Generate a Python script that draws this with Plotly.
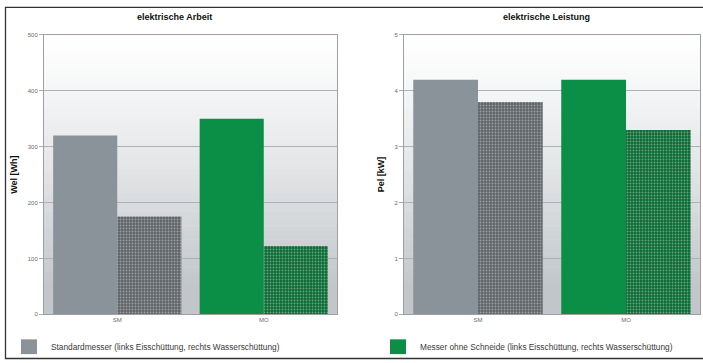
import plotly.graph_objects as go

# Categories and measured values
categories = ["SM", "MO"]
arbeit_eis = [320, 350]        # Wel [Wh], Eisschüttung
arbeit_wasser = [175, 122]     # Wel [Wh], Wasserschüttung
leistung_eis = [4.2, 4.2]      # Pel [kW], Eisschüttung
leistung_wasser = [3.8, 3.3]   # Pel [kW], Wasserschüttung

arbeit_ticks = [0, 100, 200, 300, 400, 500]
leistung_ticks = [0, 1, 2, 3, 4, 5]

legend_labels = [
    "Standardmesser (links Eisschüttung, rechts Wasserschüttung)",
    "Messer ohne Schneide (links Eisschüttung, rechts Wasserschüttung)",
]

# Colours: solid for Eis, dotted/darker for Wasser
eis_colors = ["#8b939a", "#0b8e46"]
wasser_colors = ["#5f6468", "#0a6a34"]
wasser_dots = ["#a0a5aa", "#3f9f65"]

W, H = 703, 363
FONT = "Liberation Sans, Arial, sans-serif"

fig = go.Figure()


def add_panel(xa, ya, eis, wasser):
    fig.add_trace(go.Bar(
        x=categories, y=eis, xaxis=xa, yaxis=ya, offsetgroup="eis",
        marker=dict(color=eis_colors, line=dict(width=0)),
        showlegend=False, hoverinfo="x+y",
    ))
    fig.add_trace(go.Bar(
        x=categories, y=wasser, xaxis=xa, yaxis=ya, offsetgroup="wasser",
        marker=dict(
            color=wasser_colors, line=dict(width=0),
            pattern=dict(shape=".", fgcolor=wasser_dots, fgopacity=0.4,
                         size=3, solidity=0.3, fillmode="overlay"),
        ),
        showlegend=False, hoverinfo="x+y",
    ))


add_panel("x", "y", arbeit_eis, arbeit_wasser)
add_panel("x2", "y2", leistung_eis, leistung_wasser)

ydom = [1 - 316.5 / H, 1 - 32.5 / H]
dom1 = [44 / W, 337 / W]
dom2 = [404 / W, 700 / W]

tickfont = dict(family=FONT, size=6, color="#6a6a6a")
axis_common = dict(
    showline=True, linecolor="#9c9fa3", linewidth=1, mirror=True,
    ticks="outside", ticklen=4, tickcolor="#a8abae",
    showgrid=True, gridcolor="#aeb2b6", gridwidth=1,
    zeroline=False, tickfont=tickfont,
)

fig.update_layout(
    width=W, height=H,
    margin=dict(l=0, r=0, t=0, b=0),
    paper_bgcolor="white", plot_bgcolor="rgba(0,0,0,0)",
    barmode="group", bargap=0.125, bargroupgap=0,
    font=dict(family=FONT),
    xaxis=dict(domain=dom1, anchor="y", showline=True, linecolor="#9c9fa3",
               mirror=True, ticks="", showgrid=False, tickfont=tickfont,
               range=[-0.5, 1.5]),
    yaxis=dict(domain=ydom, anchor="x", range=[0, 500], tickvals=arbeit_ticks,
               title=dict(text="<b>Wel [Wh]</b>", font=dict(family=FONT, size=9, color="#111"),
                          standoff=8),
               **axis_common),
    xaxis2=dict(domain=dom2, anchor="y2", showline=True, linecolor="#9c9fa3",
                mirror=True, ticks="", showgrid=False, tickfont=tickfont,
                range=[-0.5, 1.5]),
    yaxis2=dict(domain=ydom, anchor="x2", range=[0, 5], tickvals=leistung_ticks,
                title=dict(text="<b>Pel [kW]</b>", font=dict(family=FONT, size=9, color="#111"),
                           standoff=8),
                **axis_common),
)

# Vertical white-to-grey gradient behind each plot area
shapes = []
n_bands = 60


def band_color(t):
    # t = 0 at bottom, 1 at top
    f = max(0.0, min(1.0, (1 - t) / 0.9)) ** 1.2
    top = (255, 255, 255)
    bot = (194, 198, 202)
    c = [round(top[i] + (bot[i] - top[i]) * f) for i in range(3)]
    return "rgb(%d,%d,%d)" % tuple(c)


for xr, yr in (("x domain", "y domain"), ("x2 domain", "y2 domain")):
    for i in range(n_bands):
        y0 = i / n_bands
        y1 = (i + 1) / n_bands
        shapes.append(dict(
            type="rect", xref=xr, yref=yr, x0=0, x1=1, y0=y0, y1=y1 + 0.002,
            fillcolor=band_color((y0 + y1) / 2), line=dict(width=0), layer="below",
        ))

# Outer frame of the figure
shapes.append(dict(type="rect", xref="paper", yref="paper",
                   x0=5.5 / W, x1=1.01, y0=1.5 / H, y1=1 - 4.5 / H,
                   line=dict(color="#333", width=1.3), fillcolor="rgba(0,0,0,0)"))

# Legend swatches
shapes.append(dict(type="rect", xref="paper", yref="paper",
                   x0=21 / W, x1=37 / W, y0=1 - 357 / H, y1=1 - 342 / H,
                   fillcolor=eis_colors[0], line=dict(width=0)))
shapes.append(dict(type="rect", xref="paper", yref="paper",
                   x0=390 / W, x1=406 / W, y0=1 - 357 / H, y1=1 - 342 / H,
                   fillcolor=eis_colors[1], line=dict(width=0)))

annotations = [
    dict(text="<b>elektrische Arbeit</b>", xref="paper", yref="paper",
         x=174 / W, y=1 - 14 / H, showarrow=False, xanchor="center", yanchor="middle",
         font=dict(family=FONT, size=9, color="#111")),
    dict(text="<b>elektrische Leistung</b>", xref="paper", yref="paper",
         x=546 / W, y=1 - 14 / H, showarrow=False, xanchor="center", yanchor="middle",
         font=dict(family=FONT, size=9, color="#111")),
    dict(text=legend_labels[0], xref="paper", yref="paper",
         x=49 / W, y=1 - 349.5 / H, showarrow=False, xanchor="left", yanchor="middle",
         font=dict(family=FONT, size=8.3, color="#3a3a3a")),
    dict(text=legend_labels[1], xref="paper", yref="paper",
         x=418 / W, y=1 - 349.5 / H, showarrow=False, xanchor="left", yanchor="middle",
         font=dict(family=FONT, size=8.3, color="#3a3a3a")),
]

fig.update_layout(shapes=shapes, annotations=annotations)

fig.write_html("out.html")
